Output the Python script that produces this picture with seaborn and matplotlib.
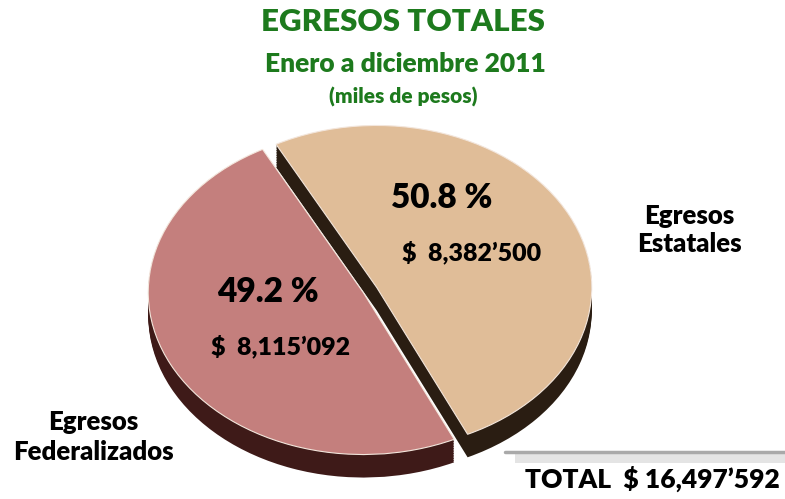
import numpy as np
import seaborn as sns
import matplotlib.pyplot as plt
from matplotlib.patches import Rectangle
from matplotlib.lines import Line2D

# Data (miles de pesos)
categorias = ["Egresos\nEstatales", "Egresos\nFederalizados"]
montos = [8382500, 8115092]
colores_top = ["#e0bd98", "#c47f7d"]
colores_lado = ["#2a1d12", "#3e1a18"]

titulo = "EGRESOS TOTALES"
subtitulo = "Enero a diciembre 2011"
unidades = "(miles de pesos)"

total = sum(montos)
porcentajes = [100 * m / total for m in montos]


def fmt(v):
    s = f"{v:,}"
    i = s.rfind(",")
    return s[:i] + "\u2019" + s[i + 1:]


sns.set_theme(style="white")
plt.rcParams["font.family"] = ["Lato", "DejaVu Sans"]

W, H = 785, 499
fig = plt.figure(figsize=(W / 100, H / 100), dpi=100)
ax = fig.add_axes([0, 0, 1, 1])

# ellipse geometry in pixels
cx, cy, a, b = 370, 290, 215, 162
depth = 23 / b
explode = [0.035, 0.035]
start = -65

# extruded side: stack of dark layers
for off in np.linspace(-depth, -0.005, 14):
    ax.pie(montos, colors=colores_lado, startangle=start, explode=explode,
           center=(0, off), radius=1, wedgeprops=dict(linewidth=0))

# top surface
wedges, _ = ax.pie(montos, colors=colores_top, startangle=start, explode=explode,
                   center=(0, 0), radius=1,
                   wedgeprops=dict(linewidth=0.8, edgecolor="#f3e6dc"))

ax.set_aspect("auto")
ax.set_xlim(-cx / a, (W - cx) / a)
ax.set_ylim(-(H - cy) / b, cy / b)
ax.axis("off")


def px(x, y):
    return x / W, 1 - y / H


green = "#1d7a1d"
wt = "heavy"
fig.text(*px(403, 22), titulo, ha="center", va="center", fontsize=22.5,
         fontweight=wt, color=green)
fig.text(*px(405, 64), subtitulo, ha="center", va="center", fontsize=19,
         fontweight=wt, color=green)
fig.text(*px(403, 97), unidades, ha="center", va="center", fontsize=15,
         fontweight=wt, color=green)

fig.text(*px(442, 198), f"{porcentajes[0]:.1f} %", ha="center", va="center",
         fontsize=24, fontweight=wt, color="black")
fig.text(*px(472, 252), f"$  {fmt(montos[0])}", ha="center", va="center",
         fontsize=18, fontweight=wt, color="black")
fig.text(*px(268, 292), f"{porcentajes[1]:.1f} %", ha="center", va="center",
         fontsize=24, fontweight=wt, color="black")
fig.text(*px(281, 346), f"$  {fmt(montos[1])}", ha="center", va="center",
         fontsize=18, fontweight=wt, color="black")

fig.text(*px(689, 230), categorias[0], ha="center", va="center", fontsize=18.5,
         fontweight=wt, color="black", linespacing=1.25)
fig.text(*px(93, 437), categorias[1], ha="center", va="center", fontsize=18.5,
         fontweight=wt, color="black", linespacing=1.25)

# total bar
fig.add_artist(Rectangle(px(515, 463), (W - 515) / W, 10 / H,
                         transform=fig.transFigure, facecolor="#e4e4e4",
                         edgecolor="none"))
fig.add_artist(Line2D([505 / W, 1], [1 - 452 / H, 1 - 452 / H],
                      transform=fig.transFigure, color="#a9a9a9", lw=2.5))
fig.text(*px(652, 479), f"TOTAL  $ {fmt(total)}", ha="center", va="center",
         fontsize=19, fontweight=wt, color="black")

fig.savefig("out.png", dpi=100, facecolor="white")
